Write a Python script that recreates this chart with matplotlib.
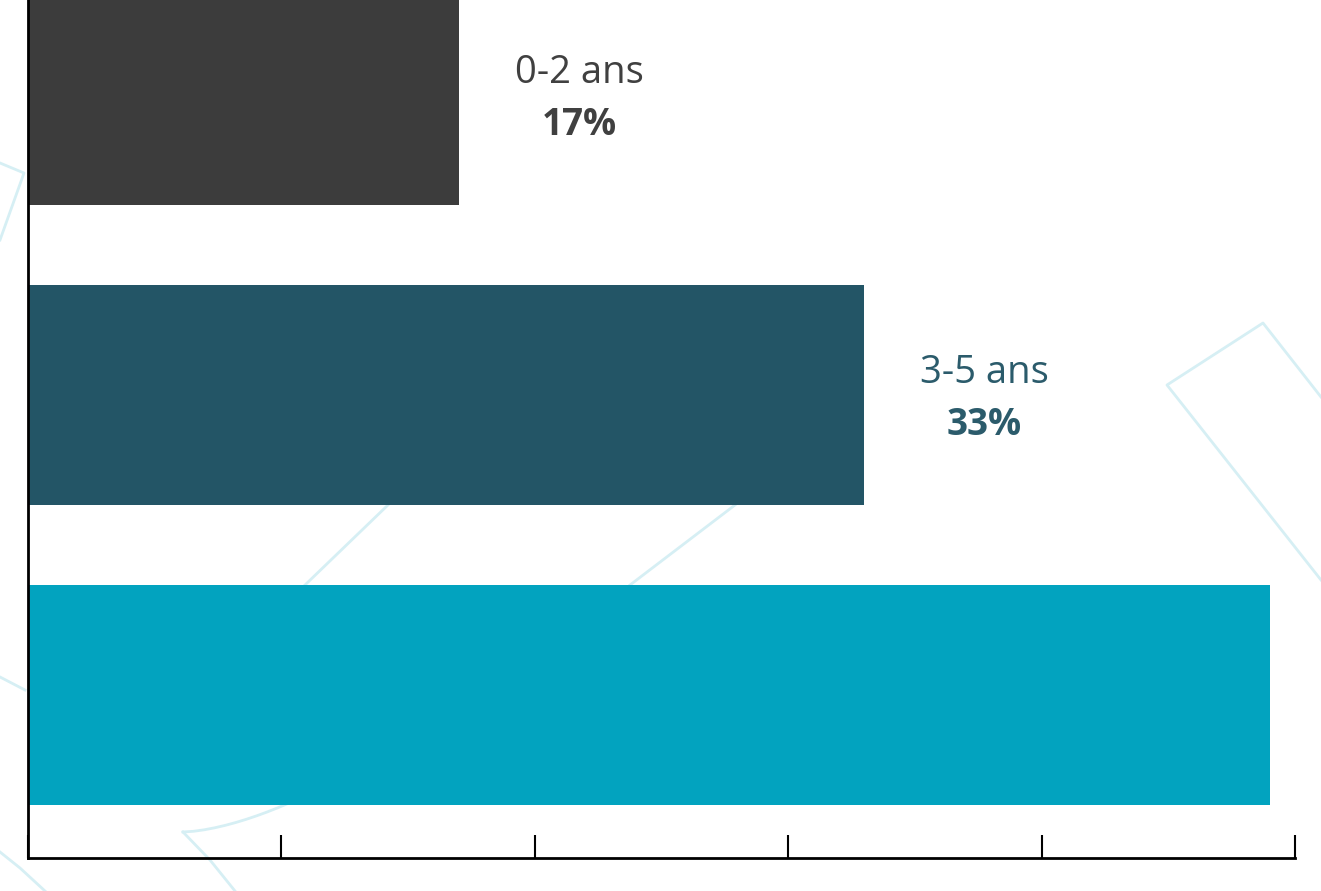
import matplotlib
matplotlib.use("Agg")
import matplotlib.pyplot as plt
from matplotlib.lines import Line2D
import numpy as np

# ---- data ----
categories = ["0-2 ans", "3-5 ans", "6-11 ans"]
values = [17, 33, 49]
bar_colors = ["#3c3c3c", "#235566", "#02a3bf"]
label_colors = ["#404040", "#2b5b6b", "#02a3bf"]
show_label = [True, True, False]
xticks = [0, 10, 20, 30, 40, 50]

W, H = 1321, 891
fig = plt.figure(figsize=(W / 100, H / 100), dpi=100)
fig.patch.set_facecolor("white")

# decorative background lines (pixel coords, figure space)
deco_color = "#d6eff4"
def px_line(xs, ys):
    xs = np.asarray(xs, float) / W
    ys = 1 - np.asarray(ys, float) / H
    fig.add_artist(Line2D(xs, ys, color=deco_color, lw=2, zorder=0,
                          transform=fig.transFigure))

px_line([0, 24, 0], [163, 173, 240])
px_line([0, 25], [677, 690])
px_line([0, 20, 45], [852, 868, 891])
t = np.linspace(0, 1, 20)
px_line(183 + 200 * t, 832 - 80 * t ** 1.6)
px_line([183, 210, 235], [832, 860, 891])
px_line([305, 388], [585, 505])
px_line([630, 735], [585, 505])
px_line([1321, 1263, 1167, 1321], [397, 323, 385, 580])

# axes: x 0..50 maps to px 28..1295; bottom at 858, top extends above figure
left = 28 / W
right = 1295 / W
bottom = (H - 858) / H
y_bottom_lim = 2.543
y_top_lim = -0.55
px_per_unit = 300
ax_h_px = (y_bottom_lim - y_top_lim) * px_per_unit
ax = fig.add_axes([left, bottom, right - left, ax_h_px / H])
ax.patch.set_alpha(0)

ypos = np.arange(len(categories))
ax.barh(ypos, values, height=0.733, color=bar_colors, zorder=2)
ax.set_xlim(0, 50)
ax.set_ylim(y_bottom_lim, y_top_lim)

for y, v, c, lc, show in zip(ypos, values, categories, label_colors, show_label):
    if not show:
        continue
    ax.text(v + 4.75, y - 0.075, c, ha="center", va="center", fontsize=27.5,
            family="Open Sans", color=lc, zorder=3)
    ax.text(v + 4.75, y + 0.1, f"{v}%", ha="center", va="center", fontsize=26.5,
            family="Open Sans", fontweight="bold", color=lc, zorder=3)

ax.set_xticks(xticks)
ax.set_xticklabels([])
ax.set_yticks(ypos)
ax.set_yticklabels([])
ax.tick_params(axis="x", direction="in", length=16.5, width=1.5, color="black")
ax.tick_params(axis="y", direction="in", length=0)
ax.spines["top"].set_visible(False)
ax.spines["right"].set_visible(False)
ax.spines["left"].set_linewidth(2)
ax.spines["bottom"].set_linewidth(2)
ax.spines["left"].set_zorder(4)

fig.savefig("out.png", dpi=100)
